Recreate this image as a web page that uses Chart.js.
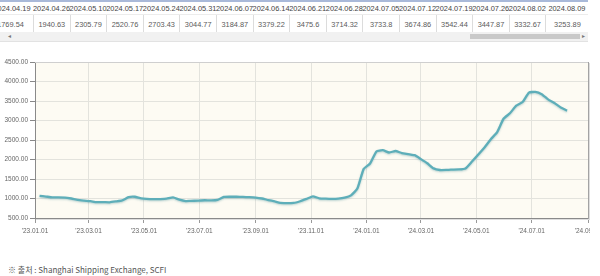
<!DOCTYPE html>
<html>
<head>
<meta charset="utf-8">
<script src="https://cdn.jsdelivr.net/npm/chart.js@4"></script>
<style>
  body { margin: 0; width: 600px; height: 276px; overflow: hidden; position: relative; background: #fff;
         font-family: "Liberation Sans", Arial, sans-serif; }
  #tbl { position: absolute; left: 0; top: 0; width: 588px; height: 42px; overflow: hidden;
         border-top: 2px solid #a9b9d9; box-sizing: border-box; }
  .cell { position: absolute; text-align: center; white-space: nowrap; font-size: 7.4px; }
  .d { top: 1px; height: 11px; line-height: 11px; color: #444; }
  .v { top: 13px; height: 19px; line-height: 19px; color: #5a5a5a; border-left: 1px solid #dcdcdc; box-sizing: border-box; }
  #rowline { position: absolute; left: 0; right: 0; top: 12px; height: 1px; background: #ececec; }
  #track { position: absolute; left: 0; top: 32px; width: 588px; height: 9px; background: #f1f1f1;
           border-bottom: 1px solid #e2e2e2; }
  #thumb { position: absolute; left: 470px; top: 2px; width: 110px; height: 5px; background: #c9c9c9; }
  .arr { position: absolute; top: 0; font-size: 6px; line-height: 9px; color: #777; }
  #wrap { position: absolute; left: 0; top: 44px; width: 590px; height: 200px; overflow: hidden; }
  #note { position: absolute; left: 8px; top: 264px; font-size: 8px; color: #555;
          font-family: "Noto Sans CJK KR", "Noto Sans", sans-serif; white-space: nowrap; }
</style>
</head>
<body>
<div id="tbl"><div id="rowline"></div></div>
<div id="track"><span class="arr" style="left:8px">&#9666;</span><div id="thumb"></div><span class="arr" style="left:582px">&#9656;</span></div>
<div id="wrap"><canvas id="chart" width="620" height="200"></canvas></div>
<div id="note">※ 출처 : Shanghai Shipping Exchange, SCFI</div>

<script>
// weekly SCFI publication dates
const dates = [
  '2023-01-06', '2023-01-13', '2023-01-20', '2023-02-03', '2023-02-10', '2023-02-17', '2023-02-24',
  '2023-03-03', '2023-03-10', '2023-03-17', '2023-03-24', '2023-03-31', '2023-04-07', '2023-04-14',
  '2023-04-21', '2023-04-28', '2023-05-12', '2023-05-19', '2023-05-26', '2023-06-02', '2023-06-09',
  '2023-06-16', '2023-06-21', '2023-06-30', '2023-07-07', '2023-07-14', '2023-07-21', '2023-07-28',
  '2023-08-04', '2023-08-11', '2023-08-18', '2023-08-25', '2023-09-01', '2023-09-08', '2023-09-15',
  '2023-09-22', '2023-09-28', '2023-10-13', '2023-10-20', '2023-10-27', '2023-11-03', '2023-11-10',
  '2023-11-17', '2023-11-24', '2023-12-01', '2023-12-08', '2023-12-15', '2023-12-22', '2023-12-29',
  '2024-01-05', '2024-01-12', '2024-01-19', '2024-01-26', '2024-02-02', '2024-02-09', '2024-02-23',
  '2024-03-01', '2024-03-08', '2024-03-15', '2024-03-22', '2024-03-29', '2024-04-03', '2024-04-12',
  '2024-04-19', '2024-04-26', '2024-05-10', '2024-05-17', '2024-05-24', '2024-05-31', '2024-06-07',
  '2024-06-14', '2024-06-21', '2024-06-28', '2024-07-05', '2024-07-12', '2024-07-19', '2024-07-26',
  '2024-08-02', '2024-08-09'
];

const scfi = [
  1068, 1050, 1030, 1025, 1000, 965, 946.68,
  931, 906.55, 909, 903, 923.78, 950, 1033.65,
  1045, 1006, 983, 985, 995, 1030, 970,
  935, 940, 945, 955, 950, 965, 1040,
  1045, 1045, 1040, 1035, 1025, 1000, 960,
  925, 890, 888, 930, 990, 1055, 1005,
  995, 990, 995, 1020, 1080, 1254.99, 1759.57,
  1896.65, 2206.03, 2239.61, 2179.13, 2217.73, 2166.27, 2109.89,
  2010, 1903, 1772.05, 1730.54, 1732.57, 1740, 1745.04,
  1769.54, 1940.63, 2305.79, 2520.76, 2703.43, 3044.77, 3184.87,
  3379.22, 3475.6, 3714.32, 3733.8, 3674.86, 3542.44, 3447.87,
  3332.67, 3253.89
];

// x axis: days since 2023-01-01
const tickDays = [0, 59, 120, 181, 243, 304, 365, 425, 486, 547, 609];
const tickLabels = ["'23.01.01", "'23.03.01", "'23.05.01", "'23.07.01", "'23.09.01", "'23.11.01",
                    "'24.01.01", "'24.03.01", "'24.05.01", "'24.07.01", "'24.09.01"];

const TABLE_COLS = 16;

const dayOf = s => {
  const [y, m, d] = s.split('-').map(Number);
  return Math.round((Date.UTC(y, m - 1, d) - Date.UTC(2023, 0, 1)) / 86400000);
};

// table above the chart (last weeks), scrolled to the right
const tbl = document.getElementById('tbl');
const tDates = dates.slice(-TABLE_COLS);
const tVals = scfi.slice(-TABLE_COLS);
const colW = 36.6, colX0 = -3.6;
function addCell(cls, x, w, text) {
  const c = document.createElement('div');
  c.className = 'cell ' + cls;
  c.style.left = x + 'px';
  c.style.width = w + 'px';
  c.textContent = text;
  tbl.appendChild(c);
}
tDates.forEach((d, i) => {
  const x = colX0 + i * colW;
  const w = i === TABLE_COLS - 1 ? 43 : colW;
  // first column is scrolled partly out of view
  if (i === 0) {
    addCell('d', -9, 42, d.replace(/-/g, '.'));
    addCell('v', -13, 46, String(tVals[i]));
  } else {
    addCell('d', x, w, d.replace(/-/g, '.'));
    addCell('v', x, w, String(tVals[i]));
  }
});

const plotBox = {
  id: 'plotBox',
  beforeDraw(chart) {
    const { ctx, chartArea: a } = chart;
    ctx.save();
    ctx.fillStyle = '#fdfbf3';
    ctx.fillRect(a.left, a.top, a.right - a.left, a.bottom - a.top);
    ctx.restore();
  },
  beforeDatasetsDraw(chart) {
    const ctx = chart.ctx;
    ctx.save();
    ctx.shadowColor = 'rgba(70,140,150,0.35)';
    ctx.shadowBlur = 2;
    ctx.shadowOffsetY = 1;
  },
  afterDatasetsDraw(chart) {
    chart.ctx.restore();
  },
  afterDraw(chart) {
    const { ctx, chartArea: a } = chart;
    ctx.save();
    ctx.lineWidth = 1;
    ctx.strokeStyle = '#cfcfcf';
    ctx.beginPath();
    ctx.moveTo(a.left, a.top + 0.5);
    ctx.lineTo(a.right, a.top + 0.5);
    ctx.stroke();
    ctx.strokeStyle = '#a3a3a3';
    ctx.beginPath();
    ctx.moveTo(a.right + 0.5, a.top);
    ctx.lineTo(a.right + 0.5, a.bottom + 1);
    ctx.stroke();
    ctx.strokeStyle = '#dedede';
    ctx.beginPath();
    ctx.moveTo(a.right + 1.5, a.top + 1);
    ctx.lineTo(a.right + 1.5, a.bottom + 2);
    ctx.moveTo(a.left + 1, a.bottom + 1.5);
    ctx.lineTo(a.right + 1.5, a.bottom + 1.5);
    ctx.stroke();
    ctx.restore();
  }
};

const tickFont = { family: 'Liberation Sans', size: 6.5 };

new Chart(document.getElementById('chart'), {
  type: 'line',
  data: {
    datasets: [{
      data: dates.map((d, i) => ({ x: dayOf(d), y: scfi[i] })),
      borderColor: '#5eaeb9',
      borderWidth: 2.3,
      pointRadius: 0,
      tension: 0.15,
      fill: false
    }]
  },
  options: {
    responsive: false,
    animation: false,
    devicePixelRatio: 1,
    layout: { padding: { top: 18, left: 0, right: 32, bottom: 0 } },
    plugins: { legend: { display: false }, tooltip: { enabled: false } },
    scales: {
      x: {
        type: 'linear',
        min: 0,
        max: 609,
        afterBuildTicks(axis) {
          axis.ticks = tickDays.map(v => ({ value: v }));
        },
        afterFit(axis) { axis.height = 26; },
        ticks: {
          autoSkip: false,
          maxRotation: 0,
          padding: 4,
          color: '#666',
          font: tickFont,
          callback: (v, i) => tickLabels[i]
        },
        grid: { color: '#e3e3dd', tickColor: '#999', tickLength: 5 },
        border: { color: '#8a8a8a' }
      },
      y: {
        min: 500,
        max: 4500,
        afterFit(axis) { axis.width = 35; },
        ticks: {
          stepSize: 500,
          padding: 2,
          color: '#666',
          font: tickFont,
          callback: v => v.toFixed(2)
        },
        grid: { color: '#e3e3dd', tickColor: '#888', tickLength: 5 },
        border: { color: '#8a8a8a' }
      }
    }
  },
  plugins: [plotBox]
});
</script>
</body>
</html>
